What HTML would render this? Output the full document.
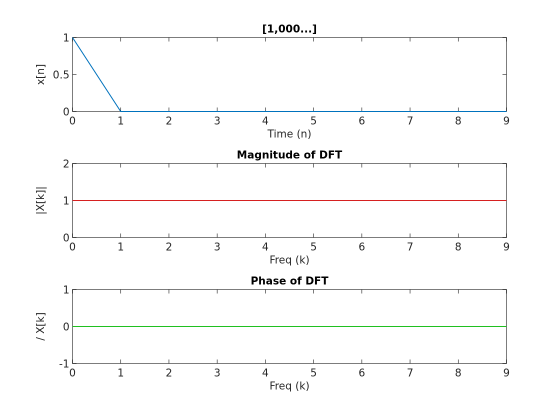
<!DOCTYPE html>
<html><head><meta charset="utf-8"><style>
body{margin:0;background:#fff;}
svg{display:block;font-family:"DejaVu Sans","Liberation Sans",sans-serif;}
</style></head><body>
<svg id="c" width="560" height="420"></svg>
<script>
const nValues=[0,1,2,3,4,5,6,7,8,9];
const xSignal=[1,0,0,0,0,0,0,0,0,0];
const magValues=[1,1,1,1,1,1,1,1,1,1];
const phaseValues=[0,0,0,0,0,0,0,0,0,0];
const xTicks=[0,1,2,3,4,5,6,7,8,9];
const y1Ticks=[0,0.5,1];
const y2Ticks=[0,1,2];
const y3Ticks=[-1,0,1];
const NS="http://www.w3.org/2000/svg";
const svg=document.getElementById('c');
function el(t,a,p){const e=document.createElementNS(NS,t);for(const k in a)e.setAttribute(k,a[k]);(p||svg).appendChild(e);return e;}
const L=72.5,R=506.5;
const FS=10.5;
const panels=[
 {top:37.5,bot:111.5,ymin:0,ymax:1,yt:y1Ticks,ys:xSignal,col:'#0072bd',title:'[1,000...]',xl:'Time (n)',yl:'x[n]',name:'signal'},
 {top:163.5,bot:237.5,ymin:0,ymax:2,yt:y2Ticks,ys:magValues,col:'#d62020',title:'Magnitude of DFT',xl:'Freq (k)',yl:'|X[k]|',name:'magnitude'},
 {top:289.5,bot:363.5,ymin:-1,ymax:1,yt:y3Ticks,ys:phaseValues,col:'#20c020',title:'Phase of DFT',xl:'Freq (k)',yl:'/ X[k]',name:'phase'}];
panels.forEach(p=>{
 const g=el('g',{});
 
 
 const xs=v=>L+(v-0)/(9-0)*(R-L);
 const ys=v=>p.bot-(v-p.ymin)/(p.ymax-p.ymin)*(p.bot-p.top);
 el('rect',{x:L,y:p.top,width:R-L,height:p.bot-p.top,fill:'#fff',stroke:'#262626','stroke-width':0.6},g);
 xTicks.forEach(t=>{
  const x=xs(t);
  el('line',{x1:x,x2:x,y1:p.bot,y2:p.bot-4,stroke:'#262626','stroke-width':0.6},g);
  el('line',{x1:x,x2:x,y1:p.top,y2:p.top+4,stroke:'#262626','stroke-width':0.6},g);
  const tx=el('text',{x:x,y:p.bot+13,'text-anchor':'middle','font-size':FS,fill:'#262626'},g);tx.textContent=t;
  
  
 });
 p.yt.forEach(t=>{
  const y=ys(t);
  el('line',{x1:L,x2:L+4,y1:y,y2:y,stroke:'#262626','stroke-width':0.6},g);
  el('line',{x1:R,x2:R-4,y1:y,y2:y,stroke:'#262626','stroke-width':0.6},g);
  const tx=el('text',{x:L-3,y:y+4,'text-anchor':'end','font-size':FS,fill:'#262626'},g);tx.textContent=t;
  
  
 });
 const pts=nValues.map((n,i)=>xs(n)+','+ys(p.ys[i])).join(' ');
 const pl=el('polyline',{points:pts,fill:'none',stroke:p.col,'stroke-width':1},g);
 
 
 const ti=el('text',{x:(L+R)/2,y:p.top-5,'text-anchor':'middle','font-size':FS,'font-weight':'bold',fill:'#000'},g);ti.textContent=p.title;
 
 
 const xl=el('text',{x:(L+R)/2,y:p.bot+26,'text-anchor':'middle','font-size':FS,fill:'#262626'},g);xl.textContent=p.xl;
 
 
 const cy=(p.top+p.bot)/2;
 const yl=el('text',{x:44,y:cy,'text-anchor':'middle','font-size':FS,fill:'#262626',transform:'rotate(-90 44 '+cy+')'},g);yl.textContent=p.yl;
 
 
});
</script>
</body></html>
